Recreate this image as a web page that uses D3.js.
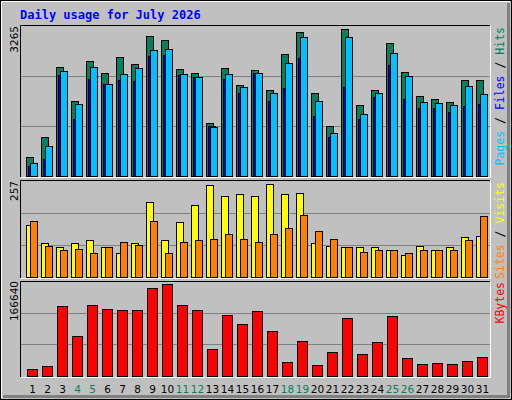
<!DOCTYPE html>
<html><head><meta charset="utf-8">
<script src="https://cdn.jsdelivr.net/npm/d3@7"></script>
<style>body{margin:0;background:#fff}svg{display:block}</style>
</head><body>
<script>
const days = d3.range(1, 32);
const weekend = [4,5,11,12,18,19,25,26];
const hits  = [414,849,2373,1633,2503,2242,2590,2438,3047,2960,2329,2242,1154,2351,1981,2307,1872,2656,3134,1807,1088,3200,1545,1872,2895,2264,1741,1676,1611,2090,2090];
const pages = [283,653,2286,1567,2373,2003,2220,2351,2743,2764,2220,2155,1067,2220,1937,2242,1807,2460,3026,1633,936,3026,1350,1807,2677,2177,1611,1589,1545,1959,1785];
const files = [218,370,2198,1241,2111,2003,2090,2068,2612,2634,2198,2155,1088,2111,1807,2242,1633,1915,2568,1306,849,1937,1241,1720,2416,1676,1480,1480,1393,1524,1567];
const visits = [138,92,81,90,98,81,65,92,200,98,146,192,245,216,221,218,248,221,224,90,84,79,79,81,71,60,84,73,81,106,111];
const sites  = [149,84,73,76,65,81,95,87,151,63,95,100,103,114,103,95,116,130,165,124,103,79,68,73,73,65,73,71,73,100,162];
const kbytes = [11150,16430,122050,69240,123810,116770,115010,115010,153740,160780,123810,115010,46360,106210,90370,113250,78040,23470,60440,18190,41080,100930,37560,58680,104450,30510,19950,21710,19950,25230,32270];
const maxTop = 3265, maxMid = 257, maxBot = 166640;

const svg = d3.select("body").append("svg").attr("width",512).attr("height",400);
svg.append("rect").attr("width",512).attr("height",400).attr("fill","#c0c0c0");
// outer bevel
svg.append("rect").attr("x",0.5).attr("y",0.5).attr("width",511).attr("height",399).attr("fill","none").attr("stroke","#000");
svg.append("path").attr("d","M1.5,398V1.5H510").attr("stroke","#fff").attr("fill","none");
svg.append("path").attr("d","M3,396.5H508.5V3").attr("stroke","#808080").attr("stroke-width",3).attr("fill","none");

svg.append("text").attr("x",20).attr("y",19).text("Daily usage for July 2026")
  .attr("font-family","DejaVu Sans Mono").attr("font-weight","bold").attr("font-size",12).attr("fill","#0000ff");

const x = d3.scaleBand().domain(days).range([25.5, 25.5+15*31]);
const panels = [{t:25,b:177},{t:180,b:278},{t:281,b:377}];
panels.forEach(p=>{
  svg.append("path").attr("d",`M20.5,${p.b}V${p.t+0.5}H490`).attr("stroke","#000").attr("fill","none");
  svg.append("path").attr("d",`M20.5,${p.b+0.5}H490.5V${p.t}`).attr("stroke","#fff").attr("fill","none");
});
const yT = d3.scaleLinear().domain([0,maxTop]).range([176,26]);
const yM = d3.scaleLinear().domain([0,maxMid]).range([277,181]);
const yB = d3.scaleLinear().domain([0,maxBot]).range([375.5,281]);
function grid(y,max){
  [1/3,2/3].forEach(f=>svg.append("line").attr("x1",21).attr("x2",490)
    .attr("y1",Math.round(y(max*f))+0.5).attr("y2",Math.round(y(max*f))+0.5).attr("stroke","#808080"));
}
grid(yT,maxTop); grid(yM,maxMid); grid(yB,maxBot);

function bars(data,y,off,w,color){
  svg.append("g").selectAll("rect").data(data).join("rect")
    .attr("x",(d,i)=>Math.round(x(days[i])+off)+0.5).attr("width",w)
    .attr("y",d=>Math.round(y(d))+0.5).attr("height",d=>Math.max(0,Math.round(y(0))-Math.round(y(d))))
    .attr("fill",color).attr("stroke","#000");
}
bars(hits,yT,0,7,"#00805c");
bars(files,yT,2,7,"#0000ff");
bars(pages,yT,4,7,"#00c0ff");
bars(visits,yM,0,7,"#ffff00");
bars(sites,yM,4,7,"#ff8000");
bars(kbytes,yB,1,10,"#ff0000");

svg.append("g").selectAll("text").data(days).join("text")
  .attr("x",d=>x(d)+7).attr("y",393).attr("text-anchor","middle")
  .attr("font-family","DejaVu Sans").attr("font-size",10.5)
  .attr("fill",d=>weekend.includes(d)?"#00805c":"#000").text(d=>d);

function rot(txt,xx,yy,anchor,parts){
  const t = svg.append("text").attr("transform",`translate(${xx},${yy}) rotate(-90)`)
    .attr("text-anchor",anchor).attr("font-size",parts?11.5:10.5)
    .attr("font-family",parts?"DejaVu Sans Mono":"DejaVu Sans");
  if(parts) parts.forEach(p=>t.append("tspan").attr("fill",p[1]).text(p[0]));
  else t.attr("fill","#000").text(txt);
}
rot("3265",18,26,"end");
rot("257",18,181,"end");
rot("166640",18,281,"end");
rot(null,504,27,"end",[["Pages","#00c0ff"],[" / ","#000"],["Files","#0000ff"],[" / ","#000"],["Hits","#00805c"]]);
rot(null,504,182,"end",[["Sites","#ff8000"],[" / ","#000"],["Visits","#ffff00"]]);
rot(null,504,282,"end",[["KBytes","#ff0000"]]);
</script>
</body></html>
